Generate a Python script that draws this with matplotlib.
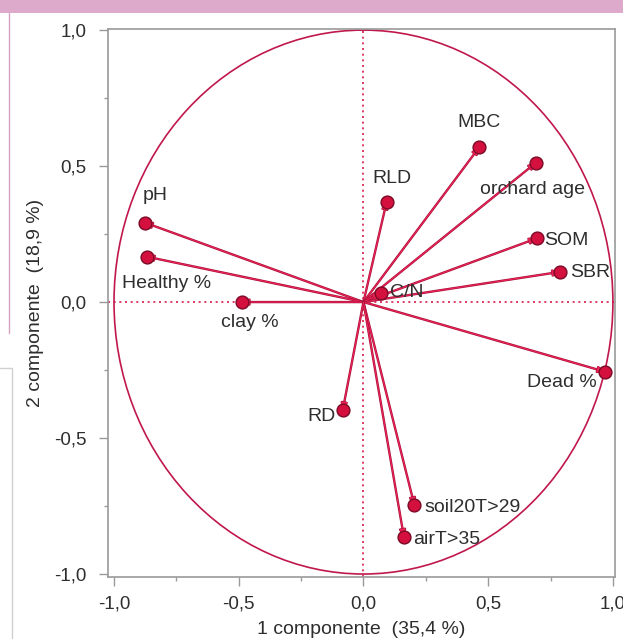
import matplotlib
matplotlib.use("Agg")
import matplotlib.pyplot as plt
import matplotlib.patheffects as pe
from matplotlib.patches import Circle, Rectangle
from matplotlib.lines import Line2D
from matplotlib.ticker import FuncFormatter, MultipleLocator

plt.rcParams['font.family'] = ['Liberation Sans', 'DejaVu Sans']

# Cargas de las variables (componente 1, componente 2)
variables = ['pH', 'Healthy %', 'clay %', 'RLD', 'MBC', 'orchard age', 'SOM',
             'SBR', 'C/N', 'Dead %', 'RD', 'soil20T>29', 'airT>35']
comp1 = [-0.876, -0.869, -0.488, 0.093, 0.464, 0.691, 0.694,
         0.788, 0.069, 0.968, -0.083, 0.204, 0.162]
comp2 = [0.292, 0.167, 0.000, 0.369, 0.569, 0.512, 0.234,
         0.111, 0.034, -0.256, -0.397, -0.746, -0.863]

xlabel = '1 componente  (35,4 %)'
ylabel = '2 componente  (18,9 %)'

# Posición de las etiquetas respecto al punto (pixeles, alineación)
label_pos = {
    'pH':          ((10, 27), 'center'),
    'Healthy %':   ((20, -27), 'center'),
    'clay %':      ((8, -20), 'center'),
    'RLD':         ((5, 23), 'center'),
    'MBC':         ((0, 25), 'center'),
    'orchard age': ((-3, -27), 'center'),
    'SOM':         ((8, -2), 'left'),
    'SBR':         ((10, -1), 'left'),
    'C/N':         ((9, 0), 'left'),
    'Dead %':      ((-8, -11), 'right'),
    'RD':          ((-7, -6), 'right'),
    'soil20T>29':  ((10, -3), 'left'),
    'airT>35':     ((9, -3), 'left'),
}

RED = '#EC2455'
DARK = '#A8103C'
GRAY = '#9A9A9A'
TXT = '#2E2E2E'


def coma(v, pos):
    return ('%.1f' % v).replace('.', ',')


def Main():
    fig = plt.figure(figsize=(6.23, 6.39), dpi=100)

    # Restos de la captura (banda rosa y bordes)
    fig.patches.append(Rectangle((0, 1 - 13 / 639), 1, 13 / 639, transform=fig.transFigure,
                                 facecolor='#DDAACC', edgecolor='none'))
    fig.lines.append(Line2D([9 / 623, 9 / 623], [1 - 13 / 639, 1 - 333 / 639],
                            transform=fig.transFigure, color='#D7A3C3', lw=1))
    fig.lines.append(Line2D([0, 12 / 623, 12 / 623], [1 - 368 / 639, 1 - 368 / 639, 0],
                            transform=fig.transFigure, color='#D0D0D0', lw=1))

    ax = fig.add_axes([0.173, 0.097, 0.814, 0.8576])
    ax.set_xlim(-1.025, 1.008)
    ax.set_ylim(-1.011, 1.004)

    # Círculo de correlación y ejes en cero
    ax.add_patch(Circle((0, 0), 1, fill=False, edgecolor='#C0184C', lw=1.2, zorder=2))
    ax.axhline(0, color='#D81B4A', lw=1.2, ls=(0, (1.2, 2.2)), zorder=1)
    ax.axvline(0, color='#D81B4A', lw=1.2, ls=(0, (1.2, 2.2)), zorder=1)

    for i in range(len(variables)):
        x, y = comp1[i], comp2[i]
        ax.annotate('', xy=(x, y), xytext=(0, 0),
                    arrowprops=dict(arrowstyle='-|>,head_length=0.45,head_width=0.18',
                                    color=RED, lw=0.8, shrinkA=0, shrinkB=0,
                                    path_effects=[pe.Stroke(linewidth=1.7, foreground=DARK),
                                                  pe.Normal()]),
                    zorder=3)
        ax.scatter([x], [y], s=85, color='#D4103E', edgecolor='#7A0A26', lw=1.0, zorder=4)
        off, ha = label_pos[variables[i]]
        ax.annotate(variables[i], xy=(x, y), xytext=off, textcoords='offset pixels',
                    ha=ha, va='center', fontsize=14, color=TXT, zorder=5)

    for s in ax.spines.values():
        s.set_color(GRAY)
        s.set_linewidth(1.2)

    ax.xaxis.set_major_locator(MultipleLocator(0.5))
    ax.yaxis.set_major_locator(MultipleLocator(0.5))
    ax.xaxis.set_minor_locator(MultipleLocator(0.25))
    ax.yaxis.set_minor_locator(MultipleLocator(0.25))
    ax.xaxis.set_major_formatter(FuncFormatter(coma))
    ax.yaxis.set_major_formatter(FuncFormatter(coma))
    ax.tick_params(which='major', length=6.5, width=1.0, color=GRAY, labelsize=13.5,
                   labelcolor=TXT, pad=7)
    ax.tick_params(which='minor', length=3, width=1.0, color=GRAY)
    ax.tick_params(axis='y', which='major', pad=9)

    # La marca del cero va en rojo
    for t in ax.xaxis.get_major_ticks() + ax.yaxis.get_major_ticks():
        if abs(t.get_loc()) < 1e-9:
            t.tick1line.set_color('#D81B4A')

    ax.set_xlabel(xlabel, fontsize=14, color=TXT, labelpad=6)
    ax.set_ylabel(ylabel, fontsize=14, color=TXT, labelpad=7)

    fig.savefig('out.png', dpi=100)


if __name__ == "__main__": Main()
